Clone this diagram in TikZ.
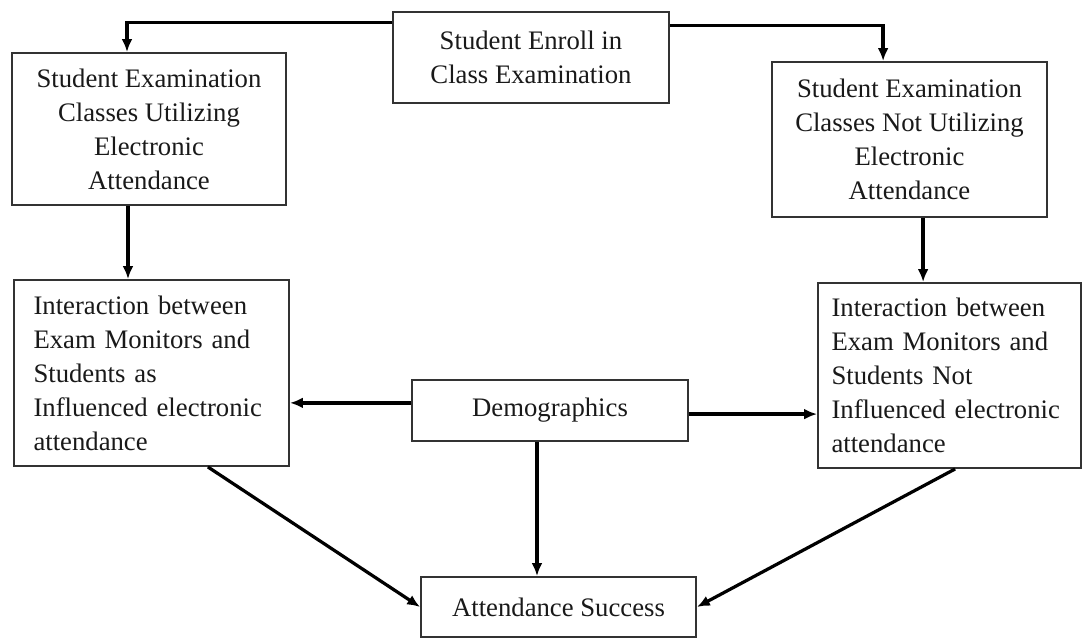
\documentclass[tikz,border=0pt]{standalone}
\usepackage{fontspec}
\setmainfont{Liberation Serif}
\usetikzlibrary{arrows.meta}

\begin{document}
\begin{tikzpicture}[
  >={Latex[length=3.2mm, width=2.7mm]},
  box/.style={draw=black!80, line width=1.4pt, inner sep=0pt, text=black!90,
    font=\fontsize{19}{24.2}\selectfont},
  cbox/.style={box, align=center},
  lbox/.style={box, align=left, text width=5.9cm},
  link/.style={->, line width=2.3pt}
]
  \useasboundingbox (0, 0) rectangle (27.1, 15.975);

  % Boxes
  \node[cbox, minimum width=6.9cm, minimum height=2.275cm] (enroll) at (13.275, 14.5375)
    {Student Enroll in\\Class Examination};
  \node[cbox, minimum width=6.85cm, minimum height=3.8cm] (useEA) at (3.725, 12.75)
    {Student Examination\\Classes Utilizing\\Electronic\\Attendance};
  \node[cbox, minimum width=6.875cm, minimum height=3.875cm] (noEA) at (22.7375, 12.4875)
    {Student Examination\\Classes Not Utilizing\\Electronic\\Attendance};
  \node[lbox, minimum width=6.875cm, minimum height=4.65cm] (inflA) at (3.7875, 6.65)
    {Interaction between\\Exam Monitors and\\Students as\\Influenced electronic\\attendance};
  \node[lbox, minimum width=6.575cm, minimum height=4.625cm] (inflB) at (23.7375, 6.5875)
    {Interaction between\\Exam Monitors and\\Students Not\\Influenced electronic\\attendance};
  \node[cbox, minimum width=6.9cm, minimum height=1.525cm] (demo) at (13.75, 5.7125)
    {Demographics};
  \node[cbox, minimum width=6.875cm, minimum height=1.5cm] (att) at (13.9625, 0.8)
    {Attendance Success};

  % Split from enrolment
  \draw[link] (enroll.166) -| ([xshift=-0.55cm]useEA.north);
  \draw[link] (enroll.13) -| ([xshift=-0.66cm]noEA.north);

  % Down to interaction
  \draw[link] ([xshift=-0.525cm]useEA.south) -- ([xshift=-0.525cm]useEA.south |- inflA.north);
  \draw[link] ([xshift=0.34cm]noEA.south) -- ([xshift=0.34cm]noEA.south |- inflB.north);

  % Demographics
  \draw[link] ([yshift=0.19cm]demo.west) -- ([yshift=0.19cm]demo.west -| inflA.east);
  \draw[link] ([yshift=-0.09cm]demo.east) -- ([yshift=-0.09cm]demo.east -| inflB.west);
  \draw[link] ([xshift=-0.325cm]demo.south) -- ([xshift=-0.325cm]demo.south |- att.north);

  % Into success
  \draw[link] ([xshift=1.41cm]inflA.south) -- (att.west);
  \draw[link] ([xshift=0.14cm]inflB.south) -- (att.east);
\end{tikzpicture}
\end{document}
